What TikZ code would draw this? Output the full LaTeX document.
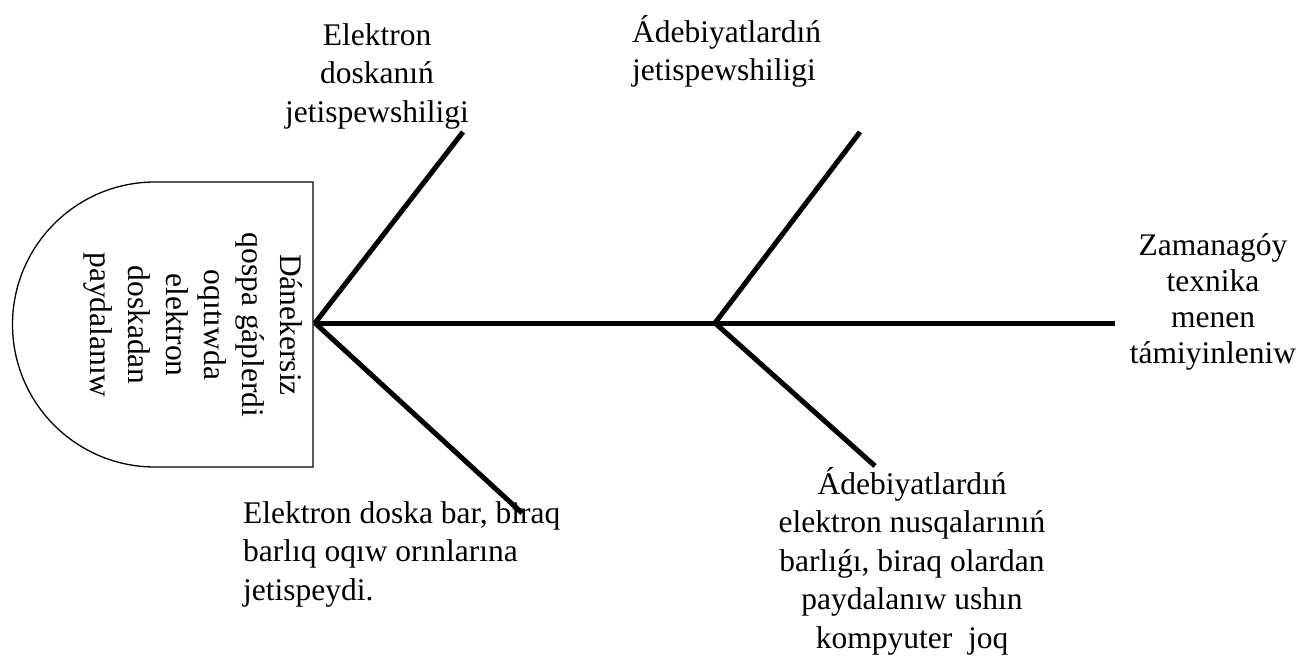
\documentclass[tikz,border=0pt]{standalone}
\usepackage{fontspec}
\setmainfont{Liberation Serif}
\usetikzlibrary{arrows.meta}
\begin{document}
\begin{tikzpicture}[x=1pt,y=1pt,
  bone/.style={line width=5pt},
  lbl/.style={inner sep=0pt,font=\fontsize{31.5}{38.5}\selectfont}]
\useasboundingbox (0,0) rectangle (1301,657);
% head of the fish
\draw[line width=1.3pt] (313,475) -- (155,475) arc[start angle=90,end angle=270,radius=142.5] -- (313,190) -- cycle;
\node[lbl,rotate=-90,align=center,font=\fontsize{31.5}{38}\selectfont] (head) at (193,332)
  {Dánekersiz\\qospa gáplerdi\\oqıtıwda\\elektron\\doskadan\\paydalanıw};
% spine and bones
\coordinate (tail) at (1115,334);
\coordinate (nose) at (313,334);
\coordinate (j1) at (315,334);
\coordinate (j2) at (715,334);
\coordinate (a) at (463,525);
\coordinate (b) at (522,144);
\coordinate (c) at (860,525);
\coordinate (d) at (875,191);
\draw[bone,-{Triangle[length=7pt,width=9pt]}] (tail) -- (nose);
\draw[bone] (j1) -- (a);
\draw[bone] (j1) -- (b);
\draw[bone] (j2) -- (c);
\draw[bone] (j2) -- (d);
% labels
\node[lbl,align=center,anchor=north] (ta) at (377,634) {Elektron\\doskanıń\\jetispewshiligi};
\node[lbl,align=left,anchor=north west] (tc) at (632,642) {Ádebiyatlardıń\\jetispewshiligi};
\node[lbl,align=center,font=\fontsize{31.5}{36}\selectfont] (tt) at (1213,355) {Zamanagóy\\texnika\\menen\\támiyinleniw};
\node[lbl,align=left,anchor=north west] (tb) at (243,156) {Elektron doska bar, biraq\\barlıq oqıw orınlarına\\jetispeydi.};
\node[lbl,align=center,anchor=north] (td) at (912,190)
  {Ádebiyatlardıń\\elektron nusqalarınıń\\barlıǵı, biraq olardan\\paydalanıw ushın\\kompyuter\ \ joq};
\end{tikzpicture}
\end{document}
